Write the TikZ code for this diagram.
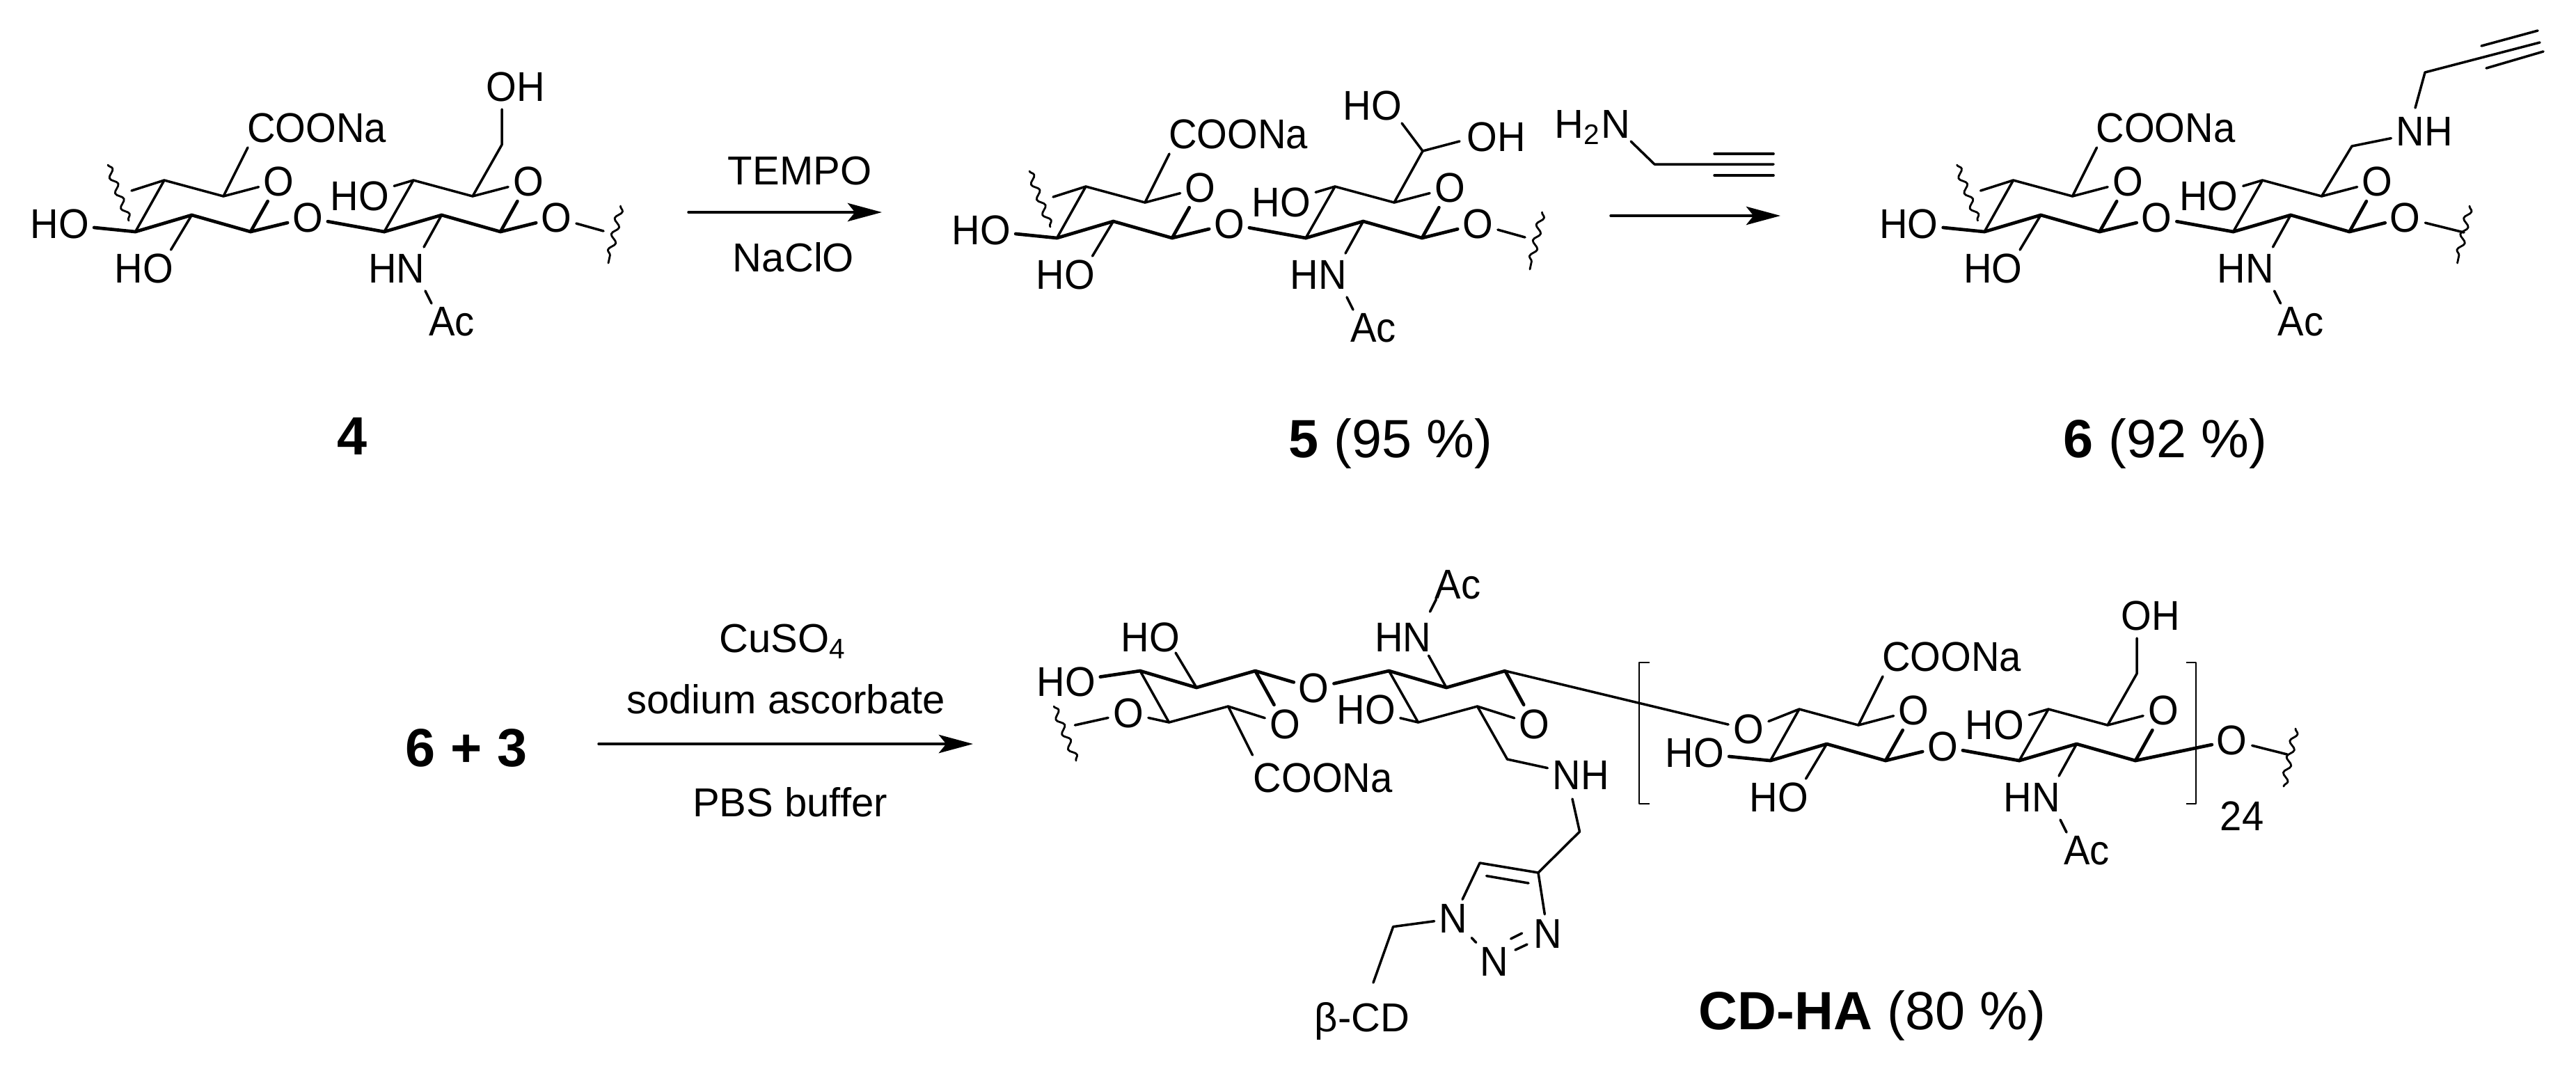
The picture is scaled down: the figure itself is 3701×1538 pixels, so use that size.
\documentclass[tikz,border=0pt]{standalone}
\usepackage{fontspec}
\setmainfont{Liberation Sans}
\newfontfamily\atomfont[FakeStretch=0.94]{Liberation Sans}
\usetikzlibrary{arrows.meta,decorations.pathmorphing}

\tikzset{
  atom/.style={inner sep=1.5pt,font=\atomfont\fontsize{17}{18}\selectfont},
  reagent/.style={anchor=base,inner sep=0pt,font=\fontsize{16.5}{18}\selectfont},
  cmpd/.style={anchor=base,inner sep=0pt,font=\fontsize{22}{24}\selectfont},
  front/.style={line width=1.35pt},
  wavy/.style={line width=.8pt,decorate,decoration={snake,segment length=6.6pt,amplitude=1.3pt}},
}

% one HA repeat unit, local coordinates are those of compound 4
\newcommand{\hapair}[1]{%
  \coordinate (#1a1) at (194.5,333);
  \coordinate (#1a2) at (275.5,309);
  \coordinate (#1a3) at (360,333);
  \coordinate (#1a4) at (321,282);
  \coordinate (#1a5) at (236,259);
  \coordinate (#1b1) at (552,333);
  \coordinate (#1b2) at (634.5,309);
  \coordinate (#1b3) at (719,333);
  \coordinate (#1b4) at (679,282);
  \coordinate (#1b5) at (594,259);
  \coordinate (#1coe) at (356,212);
  \coordinate (#1hoe) at (245.5,359);
  \coordinate (#1hne) at (609,355);
  \coordinate (#1nac) at (611,418);
  \coordinate (#1ace) at (620,436);
  \node[atom] (#1oa) at (400.5,261) {O};
  \node[atom] (#1ob) at (759,261) {O};
  \node[atom] (#1ol) at (442,313) {O};
  \node[atom] (#1ho1) at (86,322) {HO};
  \node[atom] (#1ho2) at (207,386) {HO};
  \node[atom] (#1ho3) at (517,282) {HO};
  \node[atom] (#1coo) at (455,184) {COONa};
  \node[atom] (#1hn) at (570,386) {HN};
  \node[atom] (#1ac) at (649,462) {Ac};
  \draw (#1oa) -- (#1a4) -- (#1a5) -- (#1a1);
  \draw[front] (#1ho1) -- (#1a1) -- (#1a2) -- (#1a3);
  \draw[front] (#1oa) -- (#1a3) -- (#1ol) -- (#1b1);
  \draw (#1a2) -- (#1hoe);
  \draw (#1a4) -- (#1coe);
  \draw (#1ob) -- (#1b4) -- (#1b5) -- (#1b1);
  \draw[front] (#1b1) -- (#1b2) -- (#1b3) -- (#1ob);
  \draw (#1b5) -- (#1ho3);
  \draw (#1b2) -- (#1hne);
  \draw (#1nac) -- (#1ace);
}

% cut ends of the three upper compounds, #2 is where the last bond stops
\newcommand{\hacut}[2]{%
  \coordinate (#1st) at (189,274);
  \coordinate (#1w1) at (155,237);
  \coordinate (#1w2) at (185,317);
  \coordinate (#1w3) at (891.5,296);
  \coordinate (#1w4) at (874,378);
  \coordinate (#1te) at #2;
  \node[atom] (#1ot) at (799,313) {O};
  \draw (#1a5) -- (#1st);
  \draw[wavy] (#1w1) -- (#1w2);
  \draw[front] (#1b3) -- (#1ot);
  \draw (#1ot) -- (#1te);
  \draw[wavy] (#1w3) -- (#1w4);
}

\begin{document}
\begin{tikzpicture}[x=0.01cm,y=-0.01cm,line width=1pt,line cap=round,line join=round,
  >={Stealth[length=14pt,width=7.5pt,inset=3pt]}]
\useasboundingbox (0,0) rectangle (3701,1538);
%% compound 4
\begin{scope}
  \hapair{p}
  \hacut{p}{(867,332)}
  \coordinate (pc6) at (721,208);
  \coordinate (poe) at (721,157);
  \node[atom] (poh) at (741,125) {OH};
  \draw (pb4) -- (pc6) -- (poe);
\end{scope}
\node[cmpd] (n4) at (506,653) {\textbf{4}};
%% compound 5
\begin{scope}[shift={(1324,9)}]
  \hapair{q}
  \hacut{q}{(867,332)}
  \coordinate (qc6) at (720,208);
  \coordinate (qe1) at (690,168);
  \coordinate (qe2) at (773,194);
  \node[atom] (qh1) at (648,143) {HO};
  \node[atom] (qh2) at (825.5,188) {OH};
  \draw (qb4) -- (qc6) -- (qe1);
  \draw (qc6) -- (qe2);
\end{scope}
\node[cmpd] (n5) at (1998,657) {\textbf{5} (95 \%)};
%% compound 6
\begin{scope}[shift={(2656.5,0)}]
  \hapair{r}
  \hacut{r}{(883.5,334)}
  \coordinate (rc6) at (722.5,210);
  \coordinate (rne) at (813.5,155);
  \coordinate (rc7) at (827.5,104);
  \coordinate (rc8) at (992.5,61);
  \coordinate (rt1) at (908.5,66);
  \coordinate (rt2) at (989.5,44);
  \coordinate (rt3) at (915.5,98);
  \coordinate (rt4) at (997.5,74);
  \node[atom] (rnh) at (826.5,189) {NH};
  \draw (rb4) -- (rc6) -- (rnh);
  \draw (rne) -- (rc7) -- (rc8);
  \draw (rt1) -- (rt2);
  \draw (rt3) -- (rt4);
\end{scope}
\node[cmpd] (n6) at (3111,657) {\textbf{6} (92 \%)};
%% first arrow
\coordinate (ar1s) at (989,305);
\coordinate (ar1e) at (1267,305);
\draw[->] (ar1s) -- (ar1e);
\node[reagent] (tempo) at (1149,265) {TEMPO};
\node[reagent] (naclo) at (1140,390) {NaClO};
%% second arrow
\coordinate (ar2s) at (2314,310);
\coordinate (ar2e) at (2558,310);
\draw[->] (ar2s) -- (ar2e);
\node[reagent,anchor=base west] (amine) at (2232,198) {H\textsubscript{2}N};
\coordinate (ane) at (2343,203);
\coordinate (ac1) at (2377,236);
\coordinate (ac2) at (2548,236);
\coordinate (at1) at (2463,221);
\coordinate (at2) at (2548,221);
\coordinate (at3) at (2463,252);
\coordinate (at4) at (2548,252);
\draw (ane) -- (ac1) -- (ac2);
\draw (at1) -- (at2);
\draw (at3) -- (at4);
%% third arrow
\node[cmpd] (n63) at (670,1101) {\textbf{6 + 3}};
\coordinate (ar3s) at (860,1069);
\coordinate (ar3e) at (1398,1069);
\draw[->] (ar3s) -- (ar3e);
\node[reagent] (cuso) at (1125,937) {CuSO\textsubscript{4}};
\node[reagent] (asc) at (1129,1025) {sodium ascorbate};
\node[reagent] (pbs) at (1135,1173) {PBS buffer};
%% CD-HA, left unit is flipped
\begin{scope}[shift={(1443.5,1297)},yscale=-1,atom/.append style={yshift=-1.4pt,xshift=.6pt}]
  \hapair{s}
\end{scope}
\coordinate (sw1) at (1514,1015);
\coordinate (sw2) at (1546,1093);
\coordinate (swe) at (1544.4,1042);
\coordinate (sc6) at (2165.5,1091);
\coordinate (sne) at (2259,1148);
\coordinate (sc7) at (2269.5,1195);
\coordinate (tc4) at (2210,1254);
\coordinate (tc5) at (2126,1240);
\coordinate (td1) at (2135.6,1258.6);
\coordinate (td2) at (2196,1269);
\coordinate (tc1) at (2001.6,1331.6);
\coordinate (tce) at (1973,1412);
\node[atom] (sot) at (1621,1025) {O};
\node[atom] (snh) at (2271,1114) {NH};
\node[atom] (tn1) at (2088,1320) {N};
\node[atom] (tn2) at (2147,1382) {N};
\node[atom] (tn3) at (2223.6,1341.4) {N};
\node[reagent] (bcd) at (1957,1482) {β-CD};
\draw (sa5) -- (sot) -- (swe);
\draw[wavy] (sw1) -- (sw2);
\draw (sb4) -- (sc6) -- (snh);
\draw (sne) -- (sc7) -- (tc4) -- (tc5) -- (tn1);
\draw (td1) -- (td2);
\draw (tc4) -- (tn3);
\draw (tn1) -- (tn2);
\coordinate (tn4) at (2170.6,1349);
\coordinate (tn5) at (2186.6,1341);
\coordinate (tn6) at (2177,1365);
\coordinate (tn7) at (2194,1357);
\draw (tn4) -- (tn5);
\draw (tn6) -- (tn7);
\draw (tn1) -- (tc1) -- (tce);
%% bracketed unit
\begin{scope}[shift={(2349,760)}]
  \hapair{u}
  \coordinate (uc6) at (721,208);
  \coordinate (uoe) at (721,157);
  \coordinate (uw3) at (949,287);
  \coordinate (uw4) at (932,370);
  \coordinate (ute) at (937,324);
  \node[atom] (uoh) at (741,125) {OH};
  \node[atom] (uos) at (163,288) {O};
  \node[atom] (uot) at (857.7,304) {O};
  \draw (ub4) -- (uc6) -- (uoe);
  \draw (ua5) -- (uos);
  \draw[front] (ub3) -- (uot);
  \draw (uot) -- (ute);
  \draw[wavy] (uw3) -- (uw4);
\end{scope}
\draw (sb3) -- (uos);
\coordinate (bl1) at (2370,952);
\coordinate (bl2) at (2355,952);
\coordinate (bl3) at (2355,1155);
\coordinate (bl4) at (2370,1155);
\coordinate (br1) at (3141,952);
\coordinate (br2) at (3155,952);
\coordinate (br3) at (3155,1155);
\coordinate (br4) at (3141,1155);
\draw[line width=.8pt,line cap=butt] (bl1) -- (bl2) -- (bl3) -- (bl4);
\draw[line width=.8pt,line cap=butt] (br1) -- (br2) -- (br3) -- (br4);
\node[atom] (n24) at (3221,1173) {24};
\node[cmpd] (ncd) at (2690,1479) {\textbf{CD-HA} (80 \%)};
%
\end{tikzpicture}
\end{document}
